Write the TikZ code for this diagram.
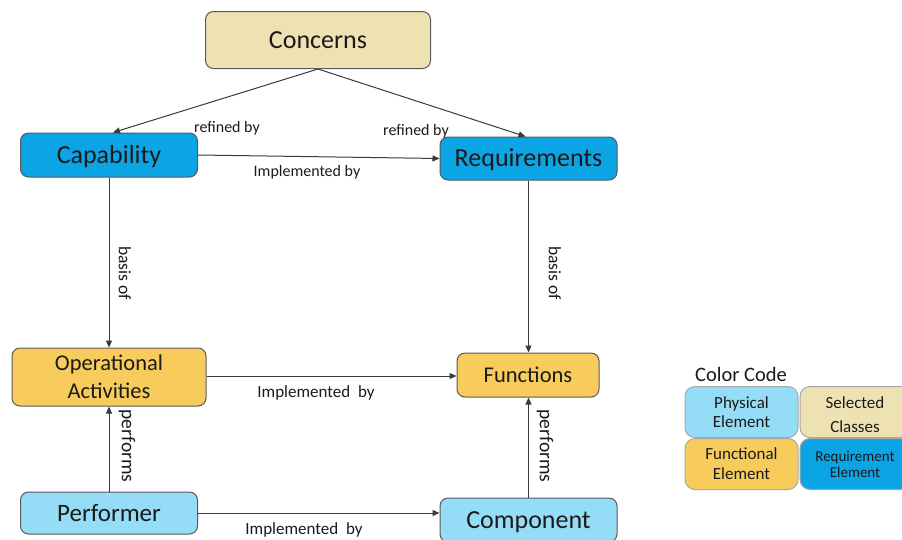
\documentclass[tikz,border=0pt]{standalone}
\usepackage{fontspec}
\setmainfont{Carlito}
\usetikzlibrary{arrows.meta}

\definecolor{beige}{HTML}{EFE2B2}
\definecolor{reqblue}{HTML}{0BA4E4}
\definecolor{funcyellow}{HTML}{F8CC5C}
\definecolor{physblue}{HTML}{95DDF6}
\definecolor{outline}{HTML}{595959}
\definecolor{linegray}{HTML}{3A3A3A}
\definecolor{txt}{HTML}{1A1A1A}

\newcommand{\fs}[2]{\fontsize{#1}{#2}\selectfont}

\begin{document}
\begin{tikzpicture}[x=1pt,y=-1pt,
  box/.style={draw=outline, line width=1pt, rounded corners=8pt, inner sep=0pt,
    align=center, text=txt},
  % single-line boxes: centre the capital height in the box
  oneline/.style={text height=#1, text depth=0pt},
  legendbox/.style={draw=gray!70, line width=1pt, rounded corners=10pt, inner sep=0pt,
    align=center, text=txt, minimum height=51pt},
  conn/.style={draw=linegray, line width=1pt, -{Triangle[length=7pt,width=6pt]}},
  lbl/.style={inner sep=0pt, text=txt, font=\fs{16}{19}},
  vlbl/.style={inner sep=0pt, text=txt, rotate=-90},
]
\useasboundingbox (0,0) rectangle (902,539);
\clip (0,0) rectangle (902,539);

% main classes
\node[box, oneline=16.7pt, fill=beige, minimum width=225pt, minimum height=57pt, font=\fs{26}{30}]
  (concerns) at (318,40) {Concerns};
\node[box, oneline=16.7pt, fill=reqblue, minimum width=177pt, minimum height=44pt, font=\fs{26}{30}]
  (capability) at (109,155) {Capability};
\node[box, oneline=16.7pt, fill=reqblue, minimum width=177pt, minimum height=43pt, font=\fs{26}{30}]
  (requirements) at (528.5,158.5) {Requirements};
\node[box, fill=funcyellow, minimum width=194pt, minimum height=58pt, font=\fs{22.5}{28}]
  (opact) at (109,377) {Operational\\Activities};
\node[box, oneline=14.5pt, fill=funcyellow, minimum width=142pt, minimum height=44pt, font=\fs{22.5}{28}]
  (functions) at (528,375) {Functions};
\node[box, oneline=16.1pt, fill=physblue, minimum width=177pt, minimum height=42pt, font=\fs{25}{30}]
  (performer) at (109,513) {Performer};
\node[box, oneline=16.7pt, fill=physblue, minimum width=177pt, minimum height=44pt, font=\fs{26}{30}]
  (component) at (528.5,520) {Component};

% relations
\draw[conn] (concerns.south) -- ([xshift=4pt]capability.north);
\draw[conn] (concerns.south) -- ([xshift=-3pt]requirements.north);
\draw[conn] (capability.east) -- (requirements.west);
\draw[conn] (capability.south) -- (opact.north);
\draw[conn] (requirements.south) -- (requirements.south |- functions.north);
\draw[conn] ([yshift=1pt]opact.east) -- ([yshift=1pt]opact.east -| functions.west);
\draw[conn] (performer.north) -- (opact.south);
\draw[conn] (component.north) -- (component.north |- functions.south);
\draw[conn] (performer.east) -- (performer.east -| component.west);

% relation labels
\node[lbl] (lref1) at (227,128) {refined by};
\node[lbl] (lref2) at (416,131) {refined by};
\node[lbl] (limp1) at (307,172) {Implemented by};
\node[lbl, font=\fs{17}{20}] (limp2) at (316,393) {Implemented\ \ by};
\node[lbl, font=\fs{17}{20}] (limp3) at (304,530) {Implemented\ \ by};
\node[vlbl, font=\fs{17.5}{20}] (lbas1) at (125,273) {basis of};
\node[vlbl, font=\fs{17.5}{20}] (lbas2) at (555,273) {basis of};
\node[vlbl, font=\fs{19.5}{22}] (lper1) at (127,446) {performs};
\node[vlbl, font=\fs{19.5}{22}] (lper2) at (545,446) {performs};

% colour legend
\node[inner sep=0pt, text=txt, font=\fs{20.5}{24}] (legtitle) at (741,374) {Color Code};
\node[legendbox, fill=physblue, minimum width=113pt, font=\fs{17}{19}]
  (legphys) at (741.5,412) {Physical\\Element};
\node[legendbox, fill=beige, minimum width=110pt] (legsel) at (855,412) {};
\node[inner sep=0pt, align=center, text=txt, font=\fs{17}{24}]
  (legseltext) at ([yshift=-3pt]legsel.center) {Selected\\Classes};
\node[legendbox, fill=funcyellow, minimum width=113pt, font=\fs{17}{20}]
  (legfunc) at (741.5,464) {Functional\\Element};
\node[legendbox, fill=reqblue, minimum width=110pt, font=\fs{15}{16}]
  (legreq) at (855,464) {Requirement\\Element};
\end{tikzpicture}
\end{document}
